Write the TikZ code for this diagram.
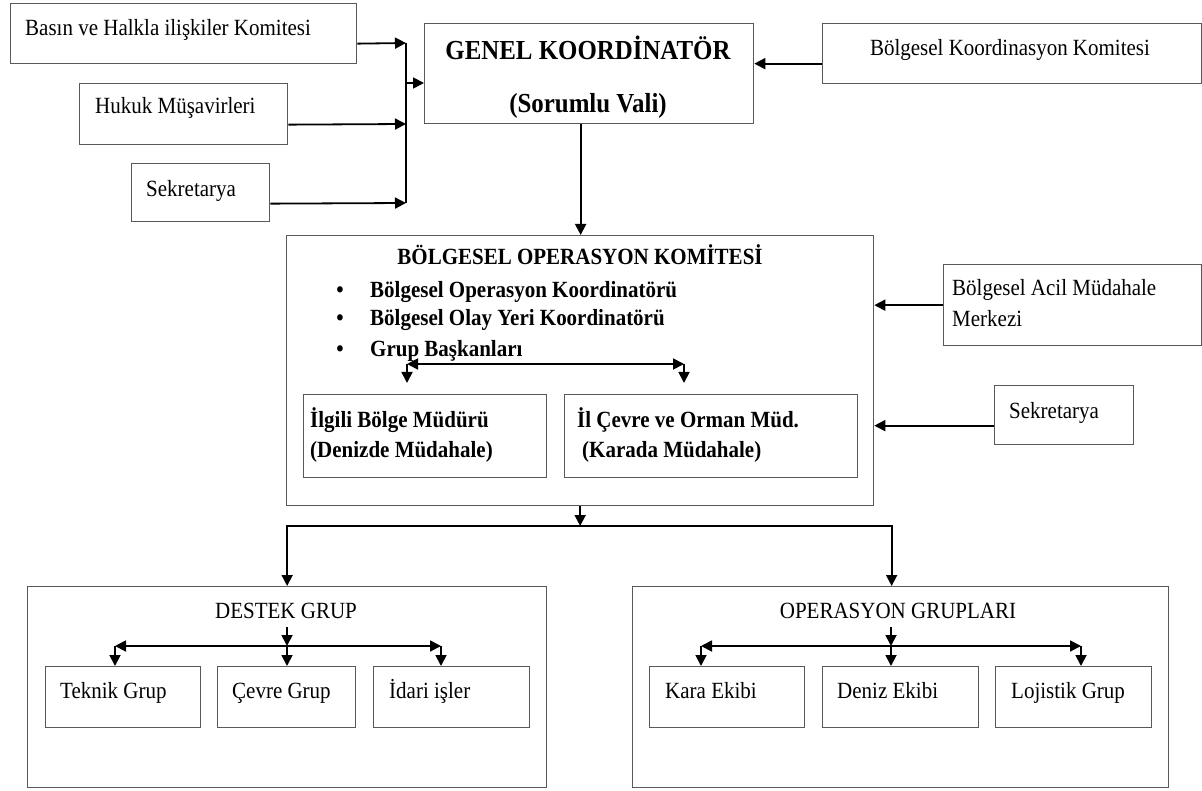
\documentclass[tikz,border=0pt]{standalone}
\usepackage{fontspec}
\setmainfont{Liberation Serif}[FakeStretch=0.905]
\usetikzlibrary{arrows.meta}
\tikzset{
  box/.style={draw=black!65, line width=1.3pt, rectangle, anchor=north west, inner sep=0pt},
  lbl/.style={inner sep=0pt, font=\fontsize{23.2}{27}\selectfont},
  blbl/.style={inner sep=0pt, font=\fontsize{23.2}{27}\selectfont\bfseries},
  titlelbl/.style={inner sep=0pt, font=\fontsize{27.5}{32}\selectfont\bfseries},
  arr/.style={line width=1.8pt, -{Triangle[length=11pt,width=11pt]}},
  dblarr/.style={line width=1.8pt, {Triangle[length=11pt,width=11pt]}-{Triangle[length=11pt,width=11pt]}},
  busline/.style={line width=1.8pt},
}
\begin{document}
\begin{tikzpicture}[x=1pt,y=-1pt]
\useasboundingbox (0,0) rectangle (1202,791);

% --- upper left advisory boxes
\node[box, minimum width=346pt, minimum height=60pt] (basin) at (10,3) {};
\node[lbl, anchor=base west] (basinT) at (25,36) {Basın ve Halkla ilişkiler Komitesi};
\node[box, minimum width=208pt, minimum height=61pt] (hukuk) at (79,83) {};
\node[lbl, anchor=base west] (hukukT) at (95,114) {Hukuk Müşavirleri};
\node[box, minimum width=138pt, minimum height=58pt] (sekr) at (131,163) {};
\node[lbl, anchor=base west] (sekrT) at (146,197) {Sekretarya};

% --- general coordinator
\node[box, minimum width=329pt, minimum height=100pt] (gk) at (424,23) {};
\node[titlelbl, anchor=base] (gkT) at (588,60) {GENEL KOORDİNATÖR};
\node[titlelbl, anchor=base] (gkS) at (588,113) {(Sorumlu Vali)};

\node[box, minimum width=379pt, minimum height=60pt] (bkk) at (822,23) {};
\node[lbl, anchor=base] (bkkT) at (1010,56) {Bölgesel Koordinasyon Komitesi};

% --- regional operations committee
\node[box, minimum width=587pt, minimum height=270pt] (bok) at (286,235) {};
\node[blbl, anchor=base] (bokT) at (580,265) {BÖLGESEL OPERASYON KOMİTESİ};
\node[blbl, anchor=base] (b1) at (340,298) {\textbullet};
\node[blbl, anchor=base west] (b1T) at (370,298) {Bölgesel Operasyon Koordinatörü};
\node[blbl, anchor=base] (b2) at (340,326) {\textbullet};
\node[blbl, anchor=base west] (b2T) at (370,326) {Bölgesel Olay Yeri Koordinatörü};
\node[blbl, anchor=base] (b3) at (340,357) {\textbullet};
\node[blbl, anchor=base west] (b3T) at (370,357) {Grup Başkanları};

\node[box, minimum width=243pt, minimum height=83pt] (ilgili) at (303,394) {};
\node[blbl, anchor=base west] (ilgiliT) at (310,427) {İlgili Bölge Müdürü};
\node[blbl, anchor=base west] (ilgiliS) at (310,457) {(Denizde Müdahale)};
\node[box, minimum width=293pt, minimum height=83pt] (ilcevre) at (564,394) {};
\node[blbl, anchor=base west] (ilcevreT) at (577,427) {İl Çevre ve Orman Müd.};
\node[blbl, anchor=base west] (ilcevreS) at (582,457) {(Karada Müdahale)};

% --- right side boxes
\node[box, minimum width=258pt, minimum height=81pt] (bamm) at (943,264) {};
\node[lbl, anchor=base west] (bammT) at (952,296) {Bölgesel Acil Müdahale};
\node[lbl, anchor=base west] (bammS) at (952,327) {Merkezi};
\node[box, minimum width=139pt, minimum height=59pt] (sekrb) at (994,385) {};
\node[lbl, anchor=base west] (sekrbT) at (1009,418) {Sekretarya};

% --- lower groups
\node[box, minimum width=519pt, minimum height=201pt] (dg) at (27,586) {};
\node[lbl, anchor=base] (dgT) at (286,618) {DESTEK GRUP};
\node[box, minimum width=155pt, minimum height=61pt] (teknik) at (45,666) {};
\node[lbl, anchor=base west] (teknikT) at (60,698) {Teknik Grup};
\node[box, minimum width=138pt, minimum height=61pt] (cevre) at (217,666) {};
\node[lbl, anchor=base west] (cevreT) at (232,698) {Çevre Grup};
\node[box, minimum width=156pt, minimum height=61pt] (idari) at (373,666) {};
\node[lbl, anchor=base west] (idariT) at (389,698) {İdari işler};

\node[box, minimum width=536pt, minimum height=201pt] (og) at (632,586) {};
\node[lbl, anchor=base] (ogT) at (898,618) {OPERASYON GRUPLARI};
\node[box, minimum width=155pt, minimum height=61pt] (kara) at (649,666) {};
\node[lbl, anchor=base west] (karaT) at (665,698) {Kara Ekibi};
\node[box, minimum width=156pt, minimum height=61pt] (deniz) at (822,666) {};
\node[lbl, anchor=base west] (denizT) at (837,698) {Deniz Ekibi};
\node[box, minimum width=156pt, minimum height=61pt] (lojistik) at (995,666) {};
\node[lbl, anchor=base west] (lojistikT) at (1011,698) {Lojistik Grup};

% --- connectors: advisory bus into the coordinator
\coordinate (busA) at (406,43);
\coordinate (busB) at (406,124);
\coordinate (busC) at (406,203);
\coordinate (busM) at (406,83);
\draw[busline] (busA) -- (busC);
\draw[arr] ([yshift=-10pt]basin.east) -- (busA);
\draw[arr] ([yshift=-10.5pt]hukuk.east) -- (busB);
\draw[arr] ([yshift=-11pt]sekr.east) -- (busC);
\draw[arr] (busM) -- (busM -| gk.west);
\draw[arr] ([yshift=-10pt]bkk.west) -- ([yshift=-10pt]bkk.west -| gk.east);
\draw[arr] ([xshift=-8.5pt]gk.south) -- ([xshift=-8.5pt]gk.south |- bok.north);

% --- into the operations committee
\draw[arr] (bamm.west) -- (bamm.west -| bok.east);
\draw[arr] ([yshift=-10.5pt]sekrb.west) -- ([yshift=-10.5pt]sekrb.west -| bok.east);

\coordinate (gl) at (407,364);
\coordinate (gr) at (684,364);
\draw[dblarr] (gl) -- (gr);
\draw[arr] (gl) -- ++(0,19);
\draw[arr] (gr) -- ++(0,19);

% --- split to the two groups
\coordinate (split) at (580,526);
\draw[arr] (bok.south) -- (bok.south |- split);
\draw[arr] (split) -| (dg.north);
\draw[arr] (split) -| ([xshift=-9pt]og.north);

% --- support group fan-out
\coordinate (dgTop) at (287,627);
\coordinate (dgC) at (287,646);
\coordinate (dgL) at (115,646);
\coordinate (dgR) at (441,646);
\draw[arr] (dgTop) -- (dgC);
\draw[dblarr] (dgL) -- (dgR);
\draw[arr] (dgL) -- (dgL |- teknik.north);
\draw[arr] (dgC) -- (dgC |- cevre.north);
\draw[arr] (dgR) -- (dgR |- idari.north);

% --- operations groups fan-out
\coordinate (ogTop) at (891,627);
\coordinate (ogC) at (891,646);
\coordinate (ogL) at (701,646);
\coordinate (ogR) at (1081,646);
\draw[arr] (ogTop) -- (ogC);
\draw[dblarr] (ogL) -- (ogR);
\draw[arr] (ogL) -- (ogL |- kara.north);
\draw[arr] (ogC) -- (ogC |- deniz.north);
\draw[arr] (ogR) -- (ogR |- lojistik.north);
\end{tikzpicture}
\end{document}
